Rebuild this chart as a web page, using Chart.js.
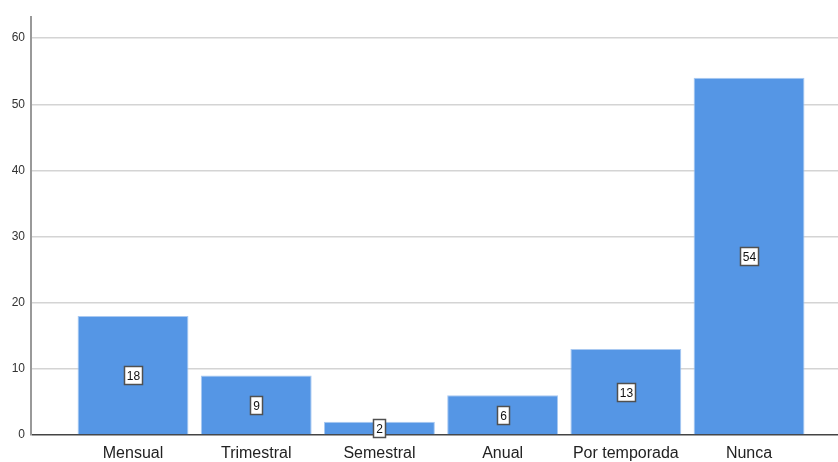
<!DOCTYPE html>
<html>
<head>
<meta charset="utf-8">
<script src="https://cdn.jsdelivr.net/npm/chart.js@4.4.0/dist/chart.umd.min.js"></script>
<style>
  html, body { margin: 0; padding: 0; background: #fff; }
  #wrap { width: 838px; height: 462px; }
</style>
</head>
<body>
<div id="wrap"><canvas id="freqChart"></canvas></div>
<script>
const categories = ['Mensual', 'Trimestral', 'Semestral', 'Anual', 'Por temporada', 'Nunca'];
const counts = [18, 9, 2, 6, 13, 54];
const yTicks = [0, 10, 20, 30, 40, 50, 60];

// etiquetas en caja blanca al centro de cada barra
const boxLabels = {
    id: 'boxLabels',
    afterDatasetsDraw(chart) {
        const ctx = chart.ctx;
        const meta = chart.getDatasetMeta(0);
        ctx.save();
        ctx.font = '12px Arial, "Liberation Sans", sans-serif';
        ctx.textAlign = 'center';
        ctx.textBaseline = 'middle';
        meta.data.forEach((bar, i) => {
            const txt = String(counts[i]);
            const cy = Math.round((bar.y + bar.base) / 2) + 0.5;
            const w = Math.round(ctx.measureText(txt).width + 5);
            const h = 18;
            const x0 = Math.round(bar.x - w / 2) + 0.5;
            ctx.fillStyle = '#ffffff';
            ctx.fillRect(x0, cy - h / 2, w, h);
            ctx.strokeStyle = '#505050';
            ctx.lineWidth = 1.5;
            ctx.strokeRect(x0, cy - h / 2, w, h);
            ctx.fillStyle = '#111';
            ctx.fillText(txt, x0 + w / 2, cy + 1);
        });
        ctx.restore();
    }
};

new Chart(document.getElementById('freqChart'), {
    type: 'bar',
    data: {
        datasets: [{
            data: counts.map((v, i) => ({ x: i, y: v })),
            backgroundColor: '#5596e5',
            borderColor: '#a9c9f1',
            borderWidth: 1,
            barPercentage: 0.9,
            categoryPercentage: 1
        }]
    },
    options: {
        responsive: true,
        maintainAspectRatio: false,
        animation: false,
        layout: { padding: { top: 17, right: 0, left: 0, bottom: 0 } },
        plugins: { legend: { display: false }, tooltip: { enabled: false } },
        scales: {
            x: {
                type: 'linear',
                offset: false,
                min: -0.828,
                max: 5.722,
                afterBuildTicks: scale => { scale.ticks = categories.map((c, i) => ({ value: i })); },
                afterFit: scale => { scale.height = 27; },
                grid: { display: false, offset: false },
                border: { display: false },
                ticks: {
                    autoSkip: false,
                    maxRotation: 0,
                    padding: 1,
                    color: '#222',
                    font: { family: 'Arial, "Liberation Sans", sans-serif', size: 16 },
                    callback: v => categories[v]
                }
            },
            y: {
                min: 0,
                max: 63.2,
                afterBuildTicks: scale => { scale.ticks = yTicks.map(v => ({ value: v })); },
                afterFit: scale => { scale.width = 31; },
                border: { display: true, color: '#999', width: 2 },
                grid: {
                    drawTicks: false,
                    color: c => c.tick.value === 0 ? '#444' : '#d4d4d4',
                    lineWidth: 1.5
                },
                ticks: {
                    padding: 6,
                    color: '#333',
                    font: { family: 'Arial, "Liberation Sans", sans-serif', size: 12 }
                }
            }
        }
    },
    plugins: [boxLabels]
});
</script>
</body>
</html>
